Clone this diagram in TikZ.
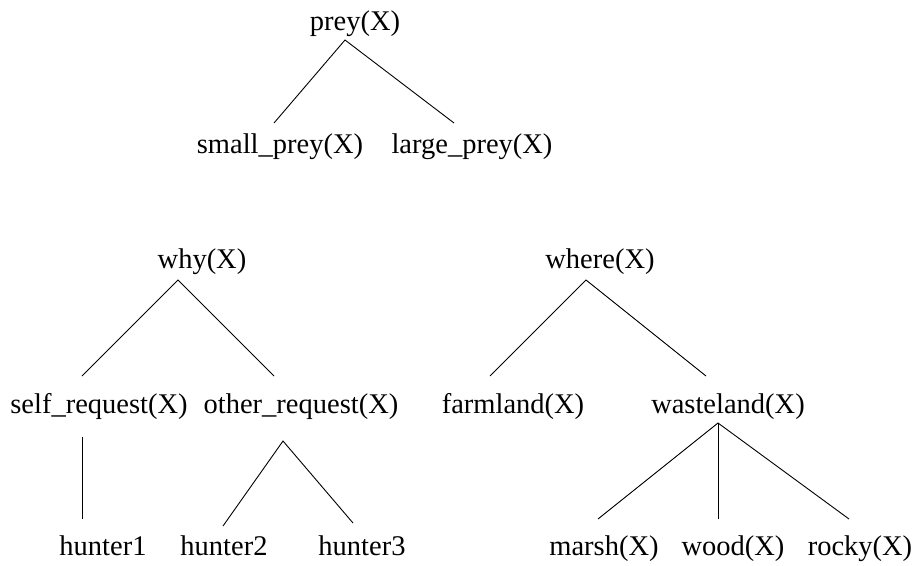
\documentclass[tikz,border=0pt]{standalone}
\usepackage{fontspec}
\setmainfont{Liberation Serif}
\begin{document}
\begin{tikzpicture}[x=1pt,y=-1pt,
  term/.style={inner sep=0pt,anchor=base,font=\fontsize{28.5}{34}\selectfont},
  edge/.style={line width=0.9pt}]
\useasboundingbox (0,0) rectangle (917,565);

% prey tree
\node[term] (prey)  at (355,30)  {prey(X)};
\node[term] (small) at (280,153) {small\_prey(X)};
\node[term] (large) at (472,153) {large\_prey(X)};
\draw[edge] ([shift={(-6,-30)}]small.base) -- ([shift={(-10,10)}]prey.base) -- ([shift={(-18,-30)}]large.base);

% why tree
\node[term] (why)   at (202,268) {why(X)};
\node[term] (self)  at (99,413)  {self\_request(X)};
\node[term] (other) at (301,413) {other\_request(X)};
\node[term] (h1)    at (103,555) {hunter1};
\node[term] (h2)    at (224,555) {hunter2};
\node[term] (h3)    at (362,555) {hunter3};
\draw[edge] ([shift={(-17,-37)}]self.base) -- ([shift={(-24,12)}]why.base) -- ([shift={(-27,-37)}]other.base);
\draw[edge] ([shift={(-17,24)}]self.base) -- ([shift={(-21,-36)}]h1.base);
\draw[edge] ([shift={(-1,-29)}]h2.base) -- ([shift={(-18,28)}]other.base) -- ([shift={(-9,-32)}]h3.base);

% where tree
\node[term] (where) at (600,268) {where(X)};
\node[term] (farm)  at (513,413) {farmland(X)};
\node[term] (waste) at (728,413) {wasteland(X)};
\node[term] (marsh) at (604,555) {marsh(X)};
\node[term] (wood)  at (733,555) {wood(X)};
\node[term] (rocky) at (860,555) {rocky(X)};
\draw[edge] ([shift={(-23,-37)}]farm.base) -- ([shift={(-14,12)}]where.base) -- ([shift={(-22,-37)}]waste.base);
\draw[edge] ([shift={(-6,-36)}]marsh.base) -- ([shift={(-10,10)}]waste.base) -- ([shift={(-11,-36)}]rocky.base);
\draw[edge] ([shift={(-10,10)}]waste.base) -- ([shift={(-15,-36)}]wood.base);
\end{tikzpicture}
\end{document}
